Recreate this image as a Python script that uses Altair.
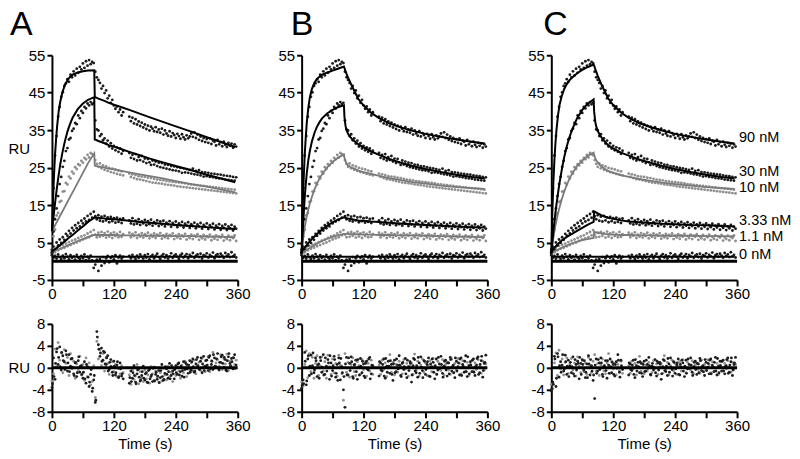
import altair as alt
import pandas as pd

FONT = "Liberation Sans"

# ---------------- time grids ----------------
T_DATA = list(range(0, 139, 3)) + list(range(150, 358, 3))   # 117 sample times (gap 140-150 s)
T_RES2 = list(range(1, 137, 3)) + list(range(151, 356, 3))   # 115 extra residual times
T_FIT = [0, 2, 4, 6, 8, 10, 13, 16, 20, 25, 30, 35, 40, 50, 60, 70, 82, 83, 85, 87,
         90, 94, 98, 102, 110, 120, 135, 150, 170, 190, 215, 240, 270, 300, 330, 355]
T_FIT0 = [0, 355]

SERIES = ["90 nM", "30 nM", "10 nM", "3.33 nM", "1.1 nM", "0 nM"]
SHADE = {"90 nM": "k", "30 nM": "k", "10 nM": "g", "3.33 nM": "k", "1.1 nM": "g", "0 nM": "k"}

# ---------------- measured sensorgram data (same in all panels) ----------------
D90 = [3.1, 19.5, 28.2, 33.4, 38.6, 41.2, 43.9, 45.1, 46.8, 47.5,
       48.6, 47.9, 49.8, 49.1, 50.7, 49.6, 51.4, 50.3, 51.9, 51.2,
       52.8, 51.6, 53.4, 52.2, 53.7, 52.6, 53.2, 52.9, 50.6, 49.1,
       48.4, 47.6, 46.1, 46.8, 44.9, 45.6, 43.5, 44.2, 42.3, 43.1,
       41.6, 40.7, 41.3, 39.8, 40.5, 38.9, 39.8,
       38.6, 37.4, 38.3, 36.8, 37.9, 36.5, 37.3, 36.1, 37.0, 35.7,
       36.5, 35.3, 36.2, 34.9, 35.9, 35.4, 34.7, 35.8, 34.5, 35.2,
       34.3, 35.4, 33.8, 34.9, 34.1, 33.5, 34.7, 33.3, 34.2, 33.7,
       32.9, 34.0, 33.4, 32.7, 33.9, 33.1, 32.5, 33.6, 32.8, 33.3,
       34.1, 33.2, 34.4, 32.9, 33.8, 32.4, 33.3, 32.1, 32.9, 31.8,
       32.6, 31.6, 32.8, 31.3, 32.2, 31.9, 30.9, 32.4, 31.2, 31.8,
       30.7, 31.9, 31.1, 30.5, 31.6, 30.8, 31.4, 30.3, 31.2, 30.6]
D30 = [2.4, 7.9, 11.2, 14.1, 17.4, 20.6, 22.5, 25.2, 26.8, 29.4,
       30.2, 32.5, 32.9, 34.8, 35.4, 36.9, 36.6, 38.9, 38.2, 40.1,
       39.6, 41.2, 40.8, 42.1, 41.6, 42.5, 41.9, 42.3, 37.6, 35.2,
       34.9, 33.4, 33.9, 32.3, 32.8, 31.4, 32.2, 30.6, 31.5, 30.1,
       30.8, 29.6, 30.4, 29.2, 30.1, 28.7, 29.5,
       28.9, 27.6, 28.4, 27.3, 28.6, 26.9, 27.8, 27.0, 28.1, 26.6,
       27.4, 26.2, 27.3, 26.4, 25.7, 26.9, 25.8, 26.6, 25.4, 26.3,
       25.1, 26.2, 24.9, 25.8, 24.7, 25.7, 24.5, 25.4, 24.3, 25.3,
       24.2, 25.1, 24.0, 24.9, 23.6, 24.8, 23.7, 24.6, 23.6, 24.4,
       23.4, 24.7, 23.2, 24.1, 23.1, 24.3, 22.9, 23.8, 22.6, 23.7,
       22.7, 23.6, 22.5, 23.4, 22.4, 23.3, 22.2, 23.2, 22.1, 23.1,
       22.0, 22.9, 21.8, 22.8, 21.7, 22.7, 21.6, 22.5, 21.5, 22.4]
D10 = [2.9, 6.6, 8.4, 12.2, 12.9, 15.8, 16.1, 18.6, 18.7, 20.9,
       20.5, 22.6, 22.1, 23.9, 23.4, 25.1, 24.6, 25.9, 25.6, 26.8,
       26.3, 27.6, 27.2, 28.4, 27.7, 28.9, 28.6, 28.3, 27.0, 26.0,
       25.2, 26.1, 24.8, 25.6, 24.4, 25.3, 24.1, 24.9, 23.8, 24.7,
       23.6, 24.5, 23.3, 24.2, 23.1, 24.0, 22.9,
       23.4, 22.5, 23.2, 22.2, 23.0, 21.9, 22.7, 21.8, 22.6, 21.6,
       22.5, 21.4, 22.3, 21.2, 22.2, 21.0, 22.0, 20.9, 21.8, 20.8,
       21.7, 20.7, 21.6, 20.5, 21.4, 20.4, 21.3, 20.3, 21.2, 20.2,
       21.1, 20.0, 21.0, 19.9, 20.9, 19.8, 20.8, 19.7, 20.6, 19.6,
       20.5, 19.5, 20.4, 19.4, 20.3, 19.3, 20.2, 19.2, 20.1, 19.1,
       20.0, 19.0, 19.9, 18.9, 19.8, 18.8, 19.7, 18.7, 19.6, 18.6,
       19.5, 18.5, 19.4, 18.4, 19.3, 18.3, 19.2, 18.2, 19.1, 18.1]
D3 = [2.2, 3.9, 3.1, 5.0, 4.2, 5.8, 4.9, 6.4, 5.7, 7.3,
      6.8, 8.1, 7.4, 8.9, 8.2, 9.6, 8.8, 10.2, 9.3, 10.8,
      10.1, 11.4, 10.6, 12.1, 11.0, 12.6, 11.6, 13.2, 12.0, 11.2,
      12.3, 10.8, 11.9, 10.6, 12.1, 10.9, 11.7, 10.4, 11.8, 10.7,
      11.5, 10.3, 11.6, 10.5, 11.3, 10.2, 11.4,
      10.9, 10.1, 11.5, 9.8, 10.8, 10.0, 11.2, 9.7, 10.6, 10.1,
      11.0, 9.6, 10.7, 9.9, 11.1, 9.5, 10.4, 10.0, 10.9, 9.4,
      10.6, 9.8, 10.8, 9.3, 10.3, 9.9, 10.7, 9.2, 10.2, 9.7,
      10.6, 9.1, 10.1, 9.6, 10.5, 9.0, 10.0, 9.5, 10.4, 8.9,
      9.9, 9.4, 10.3, 8.8, 9.8, 9.3, 10.2, 8.7, 9.7, 9.2,
      10.1, 8.6, 9.6, 9.1, 10.0, 8.5, 9.5, 9.0, 9.9, 8.4,
      9.4, 8.9, 9.8, 8.3, 9.3, 8.8, 9.7, 8.2, 9.2, 8.7]
D1 = [1.8, 3.2, 2.4, 3.6, 2.9, 4.1, 3.3, 4.4, 3.6, 4.7,
      4.0, 5.1, 4.3, 5.5, 4.7, 5.8, 5.0, 6.2, 5.4, 6.6,
      5.8, 6.9, 6.1, 7.4, 6.4, 7.8, 6.9, 8.3, 7.1, 6.4,
      7.6, 6.5, 7.8, 6.8, 7.5, 6.3, 7.9, 6.6, 7.4, 6.2,
      7.7, 6.7, 7.3, 6.4, 7.8, 6.5, 7.2,
      7.6, 6.4, 7.3, 6.8, 7.7, 6.2, 7.1, 6.6, 7.5, 6.3,
      7.2, 6.7, 7.6, 6.1, 7.0, 6.5, 7.4, 6.2, 7.1, 6.8,
      7.5, 6.0, 6.9, 6.4, 7.3, 6.1, 7.0, 6.7, 7.4, 5.9,
      6.8, 6.3, 7.2, 6.0, 6.9, 6.6, 7.3, 5.8, 6.7, 6.2,
      7.1, 5.9, 6.8, 6.5, 7.2, 5.7, 6.6, 6.1, 7.0, 5.8,
      6.7, 6.4, 7.1, 5.6, 6.5, 6.0, 6.9, 5.7, 6.6, 6.3,
      7.0, 5.5, 6.4, 5.9, 6.8, 5.6, 6.5, 6.2, 6.9, 5.4]
D0 = [1.6, 0.9, 1.4, 0.7, 1.8, 1.1, 0.6, 1.5, 0.8, 1.9,
      1.2, 0.5, 1.6, 0.9, 1.3, 0.4, 1.7, 1.0, 0.6, 1.4,
      0.8, 1.8, 0.3, 1.2, 0.7, 1.5, 0.2, -1.8, -0.9, 0.4,
      -2.6, 0.6, -1.2, 1.1, -0.5, 0.8, 1.4, -0.3, 0.9, 1.3,
      0.5, 1.6, -0.6, 1.0, 1.5, 0.7, 1.2,
      1.4, 0.8, 1.7, 1.1, 0.6, 1.5, 0.9, 1.8, 1.2, 0.7,
      1.6, 1.0, 1.9, 0.5, 1.3, 1.7, 0.8, 1.4, 2.0, 1.1,
      0.6, 1.5, 1.9, 1.0, 1.6, 0.7, 1.3, 2.1, 0.9, 1.5,
      1.8, 1.2, 0.6, 1.6, 2.0, 1.0, 1.4, 1.9, 0.8, 1.7,
      1.3, 2.2, 0.9, 1.5, 1.8, 1.1, 2.0, 0.7, 1.6, 1.4,
      2.1, 1.0, 1.7, 1.3, 2.3, 0.8, 1.6, 1.9, 1.2, 2.0,
      1.5, 0.9, 2.2, 1.4, 1.8, 1.1, 2.4, 1.3, 1.7, 1.0]
DATA = {"90 nM": D90, "30 nM": D30, "10 nM": D10, "3.33 nM": D3, "1.1 nM": D1, "0 nM": D0}

# ---------------- fitted curves ----------------
FIT_A = {
    "90 nM": [8, 16, 23, 28.5, 32.5, 36, 40, 42.5, 45, 47, 48.3, 49.2, 49.8, 50.4, 50.7, 50.9, 51.0, 43.8,
              43.7, 43.6, 43.4, 43.2, 43.0, 42.8, 42.3, 41.8, 41.1, 40.4, 39.4, 38.4, 37.2, 36.0, 34.6, 33.1, 31.7, 30.5],
    "30 nM": [8, 10.5, 13, 15.5, 17.8, 20, 23, 25.8, 28.8, 32, 34.6, 36.6, 38.3, 40.6, 42.1, 43.1, 43.8, 32.5,
              32.4, 32.3, 32.1, 31.9, 31.7, 31.5, 31.0, 30.6, 29.9, 29.2, 28.3, 27.4, 26.4, 25.4, 24.3, 23.1, 22.0, 21.1],
    "10 nM": [8.0, 8.5, 9.0, 9.6, 10.1, 10.6, 11.4, 12.2, 13.2, 14.5, 15.8, 17.1, 18.4, 21.0, 23.6, 26.2, 28.8, 25.5,
              25.4, 25.4, 25.3, 25.2, 25.1, 25.0, 24.7, 24.5, 24.1, 23.7, 23.2, 22.7, 22.1, 21.4, 20.6, 19.9, 19.1, 18.4],
    "3.33 nM": [2.5, 2.7, 3.0, 3.2, 3.4, 3.6, 4.0, 4.3, 4.8, 5.3, 5.9, 6.5, 7.0, 8.2, 9.3, 10.5, 11.6, 11.6,
                11.6, 11.6, 11.6, 11.5, 11.5, 11.4, 11.3, 11.2, 11.0, 10.8, 10.5, 10.3, 10.0, 9.7, 9.4, 9.1, 8.8, 8.6],
    "1.1 nM": [2.5, 2.6, 2.7, 2.8, 2.9, 3.0, 3.2, 3.4, 3.6, 3.9, 4.2, 4.5, 4.8, 5.4, 5.9, 6.5, 7.0, 7.0,
               7.0, 7.0, 7.0, 7.0, 7.0, 7.0, 7.0, 7.0, 6.9, 6.9, 6.9, 6.8, 6.8, 6.7, 6.7, 6.6, 6.5, 6.4],
}
FIT_B = {
    "90 nM": [2, 14, 22, 28.5, 33, 37, 41, 43.8, 46, 47.7, 48.7, 49.3, 49.8, 50.4, 50.9, 51.4, 52.0, 51.6,
              50.8, 50.0, 49.0, 47.8, 46.6, 45.5, 43.3, 41.6, 39.6, 38.2, 36.8, 35.8, 34.8, 34.0, 33.2, 32.5, 31.9, 31.4],
    "30 nM": [2, 7.5, 12.5, 17, 20.5, 23.5, 27, 29.5, 32, 34.3, 36, 37.2, 38.2, 39.5, 40.4, 41.1, 41.6, 38.5,
              36.2, 35.0, 34.0, 33.2, 32.6, 32.1, 31.2, 30.4, 29.3, 28.4, 27.3, 26.4, 25.4, 24.6, 23.8, 23.1, 22.5, 22.1],
    "10 nM": [2.5, 5, 7.2, 9.0, 10.6, 12.0, 13.8, 15.4, 17.2, 19.2, 20.8, 22.2, 23.3, 25.1, 26.5, 27.6, 28.5, 27.6,
              26.7, 26.1, 25.6, 25.2, 24.9, 24.7, 24.2, 23.8, 23.3, 22.8, 22.2, 21.7, 21.1, 20.7, 20.2, 19.8, 19.5, 19.3],
    "3.33 nM": [2.5, 2.9, 3.3, 3.6, 4.0, 4.3, 4.8, 5.3, 5.9, 6.6, 7.3, 7.9, 8.5, 9.5, 10.4, 11.1, 11.7, 11.7,
                11.6, 11.5, 11.4, 11.3, 11.2, 11.1, 10.9, 10.8, 10.6, 10.5, 10.3, 10.1, 9.9, 9.7, 9.5, 9.3, 9.1, 9.0],
    "1.1 nM": [2.0, 2.2, 2.4, 2.6, 2.8, 3.0, 3.3, 3.5, 3.9, 4.3, 4.7, 5.1, 5.4, 6.0, 6.5, 6.9, 7.3, 7.3,
               7.3, 7.3, 7.3, 7.2, 7.2, 7.2, 7.2, 7.1, 7.1, 7.0, 7.0, 6.9, 6.9, 6.8, 6.7, 6.6, 6.5, 6.4],
}
FIT_C = {
    "90 nM": [2, 13, 21, 27, 31.5, 35, 39, 41.8, 44, 46, 47.3, 48.3, 49.0, 50.2, 51.1, 51.8, 52.5, 52.2,
              51.4, 50.6, 49.5, 48.2, 46.9, 45.8, 43.5, 41.7, 39.7, 38.3, 36.9, 35.9, 34.9, 34.0, 33.2, 32.5, 31.9, 31.4],
    "30 nM": [2, 5, 8, 10.5, 13, 15.2, 18.2, 21, 24.2, 27.8, 30.7, 33, 35, 38.2, 40.4, 42.0, 43.2, 40.0,
              37.4, 36.0, 34.8, 33.7, 32.9, 32.2, 31.0, 30.1, 29.0, 28.2, 27.2, 26.4, 25.4, 24.6, 23.8, 23.1, 22.5, 22.1],
    "10 nM": [2.5, 4.5, 6.3, 8.0, 9.5, 10.8, 12.7, 14.4, 16.4, 18.6, 20.4, 22.0, 23.3, 25.4, 26.9, 28.1, 29.0, 28.4,
              27.6, 27.0, 26.3, 25.7, 25.2, 24.8, 24.1, 23.6, 23.0, 22.5, 22.0, 21.5, 21.0, 20.6, 20.2, 19.8, 19.5, 19.3],
    "3.33 nM": [2.3, 2.8, 3.2, 3.6, 3.9, 4.2, 4.6, 5.0, 5.5, 6.0, 6.5, 6.9, 7.3, 8.1, 8.9, 9.7, 10.5, 13.3,
                13.2, 13.0, 12.8, 12.5, 12.2, 12.0, 11.6, 11.3, 10.9, 10.6, 10.4, 10.2, 10.0, 9.9, 9.7, 9.6, 9.4, 9.3],
    "1.1 nM": [2.0, 2.2, 2.4, 2.6, 2.7, 2.9, 3.1, 3.3, 3.6, 3.9, 4.2, 4.5, 4.8, 5.2, 5.6, 5.9, 6.2, 7.9,
               7.8, 7.7, 7.6, 7.5, 7.4, 7.3, 7.2, 7.1, 7.0, 7.0, 6.9, 6.9, 6.8, 6.8, 6.8, 6.7, 6.7, 6.6],
}
FIT_0 = [1.2, 1.2]

# label anchors (RU) for the concentration labels of panel C
LABEL_AT = [32.9, 23.8, 19.5, 10.8, 6.5, 1.7]

# ---------------- residuals (black / grey points) ----------------
RA_K = [-3.6, 1.8, -2.1, 2.9, 0.6, 3.8, -0.4, 2.2, 1.1, 3.1,
        -0.6, 2.4, 0.3, 1.7, -1.1, 0.9, -1.6, 1.3, -0.8, 0.4,
        -1.9, 1.1, -2.8, 0.2, -3.4, -1.2, -4.3, -2.2, -6.3, 6.6,
        4.2, 2.1, 3.6, 1.4, 2.8, 0.6, 2.2, -0.3, 1.5, -0.8,
        1.2, -1.3, 0.5, -1.8, 0.9, -1.5, -2.0,
        -2.8, -0.6, -1.9, 0.4, -2.6, -1.1, -0.2, -2.4, -1.4, 0.3,
        -2.2, -0.9, -2.7, -0.3, -1.6, -2.5, 0.1, -1.2, -2.1, -0.5,
        -1.8, 0.6, -2.3, -1.0, -0.2, -1.9, 0.8, -1.4, -0.6, -2.0,
        0.4, -1.2, 0.9, -0.7, -1.5, 1.1, -0.3, 0.6, -1.0, 1.3,
        -0.4, 1.6, -0.8, 0.7, 1.9, -0.2, 1.2, -0.9, 2.1, 0.3,
        1.4, -0.5, 2.2, 0.6, -0.3, 1.8, 0.2, 2.6, -0.4, 1.0,
        2.3, 0.1, 1.5, -0.6, 2.0, 0.8, 1.7, -0.2, 2.4, 0.5]
RA_G = [-2.4, -1.1, 3.4, 0.2, 4.6, 1.4, 2.7, -0.9, 3.3, 0.8,
        1.9, -1.4, 2.6, -0.2, 1.2, -1.9, 0.7, -0.5, 2.1, -1.3,
        0.6, -2.3, 1.8, -1.6, 0.9, -3.1, -2.5, 0.4, -5.4, 4.8,
        1.6, 3.3, 0.4, 2.6, -0.6, 1.9, 0.8, -1.2, 0.3, 1.1,
        -0.7, 0.6, -1.6, -0.2, -1.1, 0.4, -0.9,
        -1.3, -3.0, -0.4, -2.1, -1.5, 0.6, -2.9, -0.7, -1.8, -2.5,
        -0.4, -2.0, -1.3, -2.8, 0.2, -1.1, -2.3, -0.6, -1.7, -2.6,
        -0.9, -2.4, -0.1, -1.3, -2.2, 0.3, -1.6, -0.8, -2.5, -0.3,
        -1.4, 0.2, -0.6, -1.9, 0.5, -0.9, 1.2, -1.6, 0.1, -0.4,
        0.9, -0.6, 1.4, -1.1, 0.3, 1.0, -0.5, 1.7, 0.2, -0.7,
        0.4, 2.1, -0.7, 1.3, 2.8, -0.1, 0.9, 1.5, 0.3, 2.4,
        -0.3, 1.6, 0.7, 2.5, -0.5, 1.2, 0.2, 1.9, 0.6, 1.4]
RA_X = [-2.9, -1.6, 0.8, 3.5, 1.9, 0.2, 2.8, 1.3, -0.3, 2.4,
        0.9, -0.7, 1.6, 0.1, -1.4, 1.0, -0.9, 2.0, 0.3, -1.2,
        -0.8, -2.0, 0.6, -1.7, -2.6, -0.3, -3.7, -1.4, -5.9, 5.6,
        3.4, 2.7, 1.2, 3.0, 0.7, 1.8, -0.6, 1.0, 0.2, -1.4,
        0.3, -0.9, 1.1, -1.6, -0.2, -1.1,
        -1.8, -2.5, -0.9, -1.4, -2.9, -0.4, -1.7, -2.2, -0.7, -1.9,
        -1.1, -2.6, -0.5, -2.0, -1.3, -0.1, -2.4, -0.8, -1.5, -2.7,
        -0.5, -1.6, -2.1, 0.2, -1.2, -0.7, -2.0, 0.4, -1.1, -0.3,
        -0.9, 0.7, -1.3, 0.3, -0.5, -1.7, 0.9, -0.2, 0.5, -0.8,
        1.1, 0.2, -0.6, 1.5, 0.4, -0.3, 1.8, 0.7, -0.5, 1.3,
        0.5, 1.9, -0.2, 1.2, 2.4, 0.3, 1.6, -0.1, 1.0, 2.0,
        0.8, 1.9, -0.4, 1.3, 2.6, 0.4, 1.1, 1.8, -0.1]
RB_K = [-3.7, -2.2, 2.8, -3.1, 1.6, -1.4, 2.3, 0.4, -0.9, 1.8,
        -1.6, 0.7, 1.9, -0.8, 2.4, -1.2, 0.3, 1.5, -2.1, 0.9,
        -0.5, 2.1, -1.7, 0.6, 1.8, -2.2, 0.2, -4.0, -7.2, 1.9,
        -1.3, 0.8, 2.0, -1.6, 0.5, 1.4, -2.1, 0.1, 1.7, -0.9,
        0.7, -1.8, 1.2, -0.4, 1.9, -1.1, 0.4,
        -1.5, 0.9, -0.6, 1.6, -1.9, 0.3, 1.2, -1.0, 0.6, -2.3,
        1.4, -0.7, 0.5, 2.2, -1.4, 0.8, -0.3, 1.7, -1.8, 0.2,
        1.1, -2.6, 0.4, 1.5, -0.9, -1.7, 0.9, 2.0, -0.5, 1.3,
        -1.2, 0.6, 1.8, -1.6, 0.2, 1.0, -2.0, 1.6, -0.4, 0.7,
        2.1, -1.0, 0.3, 1.4, -1.5, 0.9, 1.9, -0.6, 0.5, -1.8,
        1.2, 0.2, -1.3, 1.8, 0.6, -0.8, 2.2, -1.6, 0.4, 1.1,
        -0.7, 1.6, -1.4, 0.5, 2.0, -0.9, 1.3, -1.7, 0.8, 2.3]
RB_G = [-2.6, -3.3, 0.6, 3.1, -1.8, 2.6, -0.7, 1.9, -1.9, 0.8,
        2.2, -1.4, 0.4, 2.0, -0.6, 1.1, -1.9, 2.3, 0.2, -1.2,
        1.6, -0.9, 0.8, -1.5, 2.3, 0.5, -1.1, -5.9, 2.6, -0.8,
        1.0, -1.7, 0.6, 1.8, -0.7, -1.4, 1.1, 0.4, -1.2, 1.5,
        -0.3, 1.1, -1.5, 0.8, -0.6, 1.4, -1.2,
        0.5, -1.2, 1.4, -0.3, 0.9, -1.6, 0.1, 2.4, -0.8, 1.0,
        -1.3, 0.6, -0.8, 1.2, 0.3, -1.1, 1.5, -0.2, 0.8, -1.5,
        0.3, 0.9, -1.2, 2.5, -0.4, 1.2, -1.5, 0.5, 1.6, -0.8,
        0.9, -1.4, 0.4, 1.3, -0.7, 1.7, 0.3, -1.1, 1.2, -0.2,
        -0.5, 1.5, -1.3, 0.6, 1.0, -0.4, -1.2, 1.6, -0.9, 0.8,
        -0.4, 1.7, 0.8, -1.1, 1.3, 0.1, -0.6, 1.0, -1.4, 0.6,
        1.3, -0.6, 0.9, -0.3, 1.5, 0.2, -1.0, 1.2, -0.4, 0.7]
RB_X = [-3.2, -2.9, 1.2, -2.4, 2.2, 0.3, -1.1, 2.7, -0.4, 1.3,
        0.5, -1.9, 1.3, 0.1, -1.3, 1.8, -0.6, 0.9, 2.2, -1.5,
        0.4, 1.5, -1.0, -2.3, 0.9, 1.7, -0.9, -1.6, 0.7, -1.3,
        1.8, -0.5, 1.1, -1.9, 0.6, -0.7, 1.5, -1.3, 0.3, 1.2,
        -1.5, 0.8, -0.2, 1.6, -2.0, 0.5,
        1.1, -0.4, 0.6, -1.5, 1.7, -0.8, 0.3, 1.3, -1.2, 0.7,
        -0.9, 1.6, -0.2, 0.5, -1.6, 1.0, 0.2, -1.1, 1.4, -0.5,
        0.8, -1.3, 1.7, -0.6, 0.4, 1.9, -1.0, 0.1, -1.8, 1.2,
        -0.3, 1.1, -1.5, 0.7, 1.6, -0.8, 0.4, -1.2, 1.9, -0.1,
        0.6, -1.7, 1.2, -0.4, 0.9, -1.1, 1.5, 0.2, -0.9, 1.8,
        -0.6, 0.9, 1.6, -1.4, 0.3, 1.2, -0.7, 2.0, -1.1, 0.5,
        1.4, -0.8, 0.2, 1.7, -1.2, 0.6, 2.1, -0.5, 1.0]
RC_K = [-4.2, -2.6, 2.1, -3.4, 2.6, -1.7, 1.1, 0.5, -0.6, 2.3,
        -1.2, 1.4, 0.3, -0.9, 2.0, -1.5, 0.6, 1.2, -2.0, 0.8,
        1.5, -0.4, -1.8, 0.7, 2.2, -1.3, 0.4, -2.3, -5.6, 1.6,
        -0.6, 0.9, 1.8, -1.2, 0.3, 1.3, -1.9, 0.5, 1.6, -0.9,
        0.6, -1.5, 1.1, 2.4, -0.8, 1.4, -0.3,
        -1.3, 0.7, -0.5, 1.4, -1.8, 0.4, 1.0, -0.9, 0.8, -1.6,
        1.2, -0.6, 0.6, 1.9, -1.2, 0.3, -0.4, 1.5, -1.5, 0.9,
        1.0, -2.1, 0.2, 1.3, -0.7, -1.4, 0.7, 1.8, -0.3, 1.1,
        -1.0, 0.5, 1.6, -1.3, 0.1, 0.9, -1.6, 1.4, -0.2, 0.6,
        1.8, -0.8, 0.2, 1.2, -1.2, 0.7, 1.7, -0.5, 0.4, -1.4,
        1.0, 0.1, -1.1, 1.6, 0.5, -0.7, 1.9, -1.3, 0.3, 1.2,
        -0.6, 1.4, -1.1, 0.4, 1.8, -0.8, 1.1, -1.4, 0.6, 1.9]
RC_G = [-3.0, -3.8, 0.9, 2.7, -1.4, 3.2, -0.2, 1.6, -1.3, 1.0,
        1.8, -1.0, 0.6, 1.7, -0.4, 0.9, -1.5, 2.0, 0.3, -0.9,
        1.3, -0.7, 0.9, -1.2, 1.9, 0.4, -0.8, 1.2, 2.4, -0.6,
        0.8, -1.4, 0.5, 1.6, -0.6, -1.1, 0.9, 2.6, -1.0, 1.2,
        -0.2, 0.9, -1.3, 0.6, -0.5, 1.2, -1.0,
        0.4, -1.0, 1.2, -0.2, 0.8, -1.3, 0.1, 2.1, -0.6, 0.9,
        -1.1, 0.5, -0.6, 1.0, 0.2, -0.9, 1.3, -0.1, 0.7, -1.2,
        0.2, 0.8, -1.0, 2.2, -0.3, 1.0, -1.3, 0.4, 1.4, -0.6,
        0.8, -1.2, 0.3, 1.1, -0.6, 1.5, 0.2, -0.9, 1.0, -0.1,
        -0.4, 1.3, -1.1, 0.5, 0.9, -0.3, -1.0, 1.4, -0.7, 0.6,
        -0.3, 1.5, 0.6, -0.9, 1.1, 0.1, -0.5, 0.8, -1.2, 0.5,
        1.1, -0.5, 0.8, -0.2, 1.3, 0.1, -0.8, 1.0, -0.3, 0.6]
RC_X = [-3.8, -3.0, 1.6, -1.9, 2.0, 0.4, -0.8, 2.4, -0.2, 1.1,
        0.3, -1.6, 1.0, 0.2, -1.1, 1.5, -0.4, 0.8, 1.9, -1.2,
        0.6, 1.3, -0.8, -1.8, 0.7, 1.5, -0.6, -1.3, 0.5, -1.0,
        1.5, -0.3, 0.9, -1.6, 0.4, -0.5, 1.3, -1.0, 0.2, 1.0,
        -1.2, 0.6, -0.1, 1.4, -1.7, 0.4,
        0.9, -0.3, 0.5, -1.2, 1.5, -0.6, 0.2, 1.1, -1.0, 0.6,
        -0.7, 1.4, -0.1, 0.4, -1.3, 0.8, 0.1, -0.9, 1.2, -0.4,
        0.7, -1.1, 1.5, -0.5, 0.3, 1.7, -0.8, 0.1, -1.5, 1.0,
        -0.2, 0.9, -1.2, 0.6, 1.4, -0.6, 0.3, -1.0, 1.6, -0.1,
        0.5, -1.4, 1.0, -0.3, 0.8, -0.9, 1.3, 0.2, -0.7, 1.5,
        -0.5, 0.8, 1.4, -1.1, 0.2, 1.0, -0.6, 1.7, -0.9, 0.4,
        1.2, -0.6, 0.2, 1.5, -1.0, 0.5, 1.8, -0.4, 0.9]

# ---------------- tables ----------------
def data_table():
    rows = []
    for s in SERIES:
        for t, v in zip(T_DATA, DATA[s]):
            rows.append({"t": t, "v": v, "series": s, "shade": SHADE[s]})
    return pd.DataFrame(rows)


def fit_table(fits):
    rows = []
    for s, vals in fits.items():
        for t, v in zip(T_FIT, vals):
            rows.append({"t": t, "v": v, "series": s, "shade": SHADE[s]})
    for t, v in zip(T_FIT0, FIT_0):
        rows.append({"t": t, "v": v, "series": "0 nM", "shade": "k"})
    return pd.DataFrame(rows)


def resid_table(rk, rg, rx):
    rows = [{"t": t, "r": r, "shade": "k"} for t, r in zip(T_DATA, rk)]
    rows += [{"t": t, "r": r, "shade": "g"} for t, r in zip(T_DATA, rg)]
    rows += [{"t": t, "r": r, "shade": "k"} for t, r in zip(T_RES2, rx)]
    return pd.DataFrame(rows)


ZERO = pd.DataFrame({"t": [0, 360], "v": [0, 0], "r": [0, 0]})
LABELS = pd.DataFrame({"t": [360] * len(SERIES), "v": LABEL_AT, "series": SERIES})

PT_K, PT_G = "#1c1c1c", "#8f8f8f"
LN_K, LN_G = "#000000", "#7a7a7a"
XSC = alt.Scale(domain=[0, 360], nice=False, zero=False)


def x_axis(title):
    kw = dict(values=[0, 60, 120, 180, 240, 300, 360],
              labelExpr="datum.value % 120 == 0 ? '' + datum.value : ''",
              tickSize=6, labelPadding=1, labelFlush=False, labelOverlap=False)
    if title:
        return alt.Axis(title=title, titlePadding=3, **kw)
    return alt.Axis(title=None, **kw)


def y_axis(values, ru, title_y):
    kw = dict(values=values, labelExpr="'' + datum.value", tickSize=5, labelPadding=2,
              labelFlush=False, labelOverlap=False)
    if ru:
        return alt.Axis(title="RU", titleAngle=0, titleAlign="left", titleBaseline="middle",
                        titleX=-44, titleY=title_y, **kw)
    return alt.Axis(title=None, **kw)


DDF = data_table()


def top_panel(fits, letter, dx, ru, labels):
    fdf = fit_table(fits)
    X = alt.X("t:Q", scale=XSC, axis=x_axis(None))
    Y = alt.Y("v:Q", scale=alt.Scale(domain=[-5, 55], nice=False, zero=False),
              axis=y_axis([-5, 5, 15, 25, 35, 45, 55], ru, 93))
    pg = alt.Chart(DDF[DDF.shade == "g"]).mark_circle(size=8, color=PT_G, opacity=1).encode(x=X, y=Y)
    pk = alt.Chart(DDF[DDF.shade == "k"]).mark_circle(size=8, color=PT_K, opacity=1).encode(x=X, y=Y)
    zero = alt.Chart(ZERO).mark_line(color="black", strokeWidth=3).encode(x=X, y=Y)
    lg = alt.Chart(fdf[fdf.shade == "g"]).mark_line(color=LN_G, strokeWidth=1.8).encode(
        x=X, y=Y, detail="series:N", order="t:Q")
    lk = alt.Chart(fdf[fdf.shade == "k"]).mark_line(color=LN_K, strokeWidth=2).encode(
        x=X, y=Y, detail="series:N", order="t:Q")
    layers = [pg, pk, zero, lg, lk]
    if labels:
        layers.append(alt.Chart(LABELS).mark_text(align="left", baseline="middle", dx=2, fontSize=14.5,
                                                  font=FONT, color="black").encode(x=X, y=Y, text="series:N"))
    return alt.layer(*layers).properties(
        width=186, height=225,
        title=alt.TitleParams(letter, anchor="start", frame="group", dx=dx, offset=6, fontSize=34,
                              fontWeight="normal", font=FONT, color="black"))


def bottom_panel(rk, rg, rx, ru):
    rdf = resid_table(rk, rg, rx)
    X = alt.X("t:Q", scale=XSC, axis=x_axis("Time (s)"))
    Y = alt.Y("r:Q", scale=alt.Scale(domain=[-8, 8], nice=False, zero=False),
              axis=y_axis([-8, -4, 0, 4, 8], ru, 44))
    pg = alt.Chart(rdf[rdf.shade == "g"]).mark_circle(size=8, color=PT_G, opacity=1).encode(x=X, y=Y)
    pk = alt.Chart(rdf[rdf.shade == "k"]).mark_circle(size=8, color=PT_K, opacity=1).encode(x=X, y=Y)
    zero = alt.Chart(ZERO).mark_line(color="black", strokeWidth=3).encode(x=X, y=Y)
    return alt.layer(pg, pk, zero).properties(width=186, height=88)


top_row = alt.hconcat(top_panel(FIT_A, "A", -42, True, False),
                      top_panel(FIT_B, "B", -11, False, False),
                      top_panel(FIT_C, "C", -8, False, True),
                      spacing=64, bounds="flush")
bottom_row = alt.hconcat(bottom_panel(RA_K, RA_G, RA_X, True),
                         bottom_panel(RB_K, RB_G, RB_X, False),
                         bottom_panel(RC_K, RC_G, RC_X, False),
                         spacing=64, bounds="flush")

chart = alt.vconcat(top_row, bottom_row, spacing=15).properties(
    padding=0, background="white"
).configure_view(stroke=None).configure_axis(
    grid=False, domainColor="black", domainWidth=2, tickColor="black", tickWidth=2,
    labelColor="black", labelFont=FONT, labelFontSize=15,
    titleFont=FONT, titleFontSize=15, titleFontWeight="normal", titleColor="black"
)

chart.save("out.html", embed_options={"renderer": "svg", "actions": False})
